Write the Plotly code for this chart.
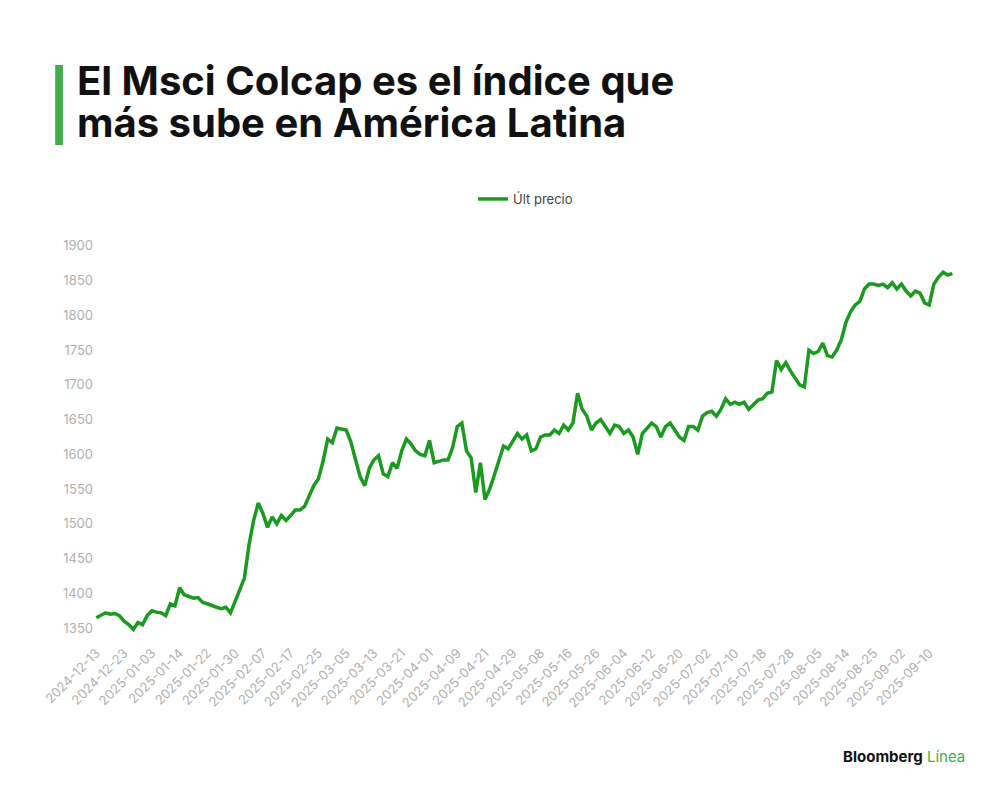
import plotly.graph_objects as go

tick_labels = ["2024-12-13","2024-12-23","2025-01-03","2025-01-14","2025-01-22","2025-01-30",
 "2025-02-07","2025-02-17","2025-02-25","2025-03-05","2025-03-13","2025-03-21","2025-04-01",
 "2025-04-09","2025-04-21","2025-04-29","2025-05-08","2025-05-16","2025-05-26","2025-06-04",
 "2025-06-12","2025-06-20","2025-07-02","2025-07-10","2025-07-18","2025-07-28","2025-08-05",
 "2025-08-14","2025-08-25","2025-09-02","2025-09-10"]

prices = [
 1365,1368,1372,1370,1371,1368, 1360,1355,1348,1358,1355,1368,
 1375,1373,1372,1368,1385,1382, 1408,1398,1395,1393,1394,1387,
 1385,1382,1380,1378,1380,1372, 1390,1405,1422,1470,1505,1530,
 1515,1495,1510,1500,1512,1505, 1512,1520,1520,1525,1540,1555,
 1565,1590,1622,1617,1638,1637, 1635,1618,1595,1568,1555,1580,
 1592,1598,1572,1568,1588,1580, 1605,1622,1615,1605,1600,1598,
 1620,1588,1590,1592,1592,1610, 1640,1645,1605,1595,1545,1588,
 1535,1550,1570,1590,1612,1608, 1620,1630,1622,1628,1605,1608,
 1625,1628,1628,1635,1630,1642, 1635,1645,1688,1665,1655,1635,
 1645,1650,1640,1630,1642,1640, 1630,1635,1625,1600,1630,1638,
 1645,1640,1625,1640,1645,1635, 1625,1620,1640,1640,1635,1655,
 1660,1662,1655,1665,1680,1672, 1675,1672,1675,1665,1672,1678,
 1680,1688,1690,1735,1722,1732, 1720,1710,1700,1697,1750,1745,
 1748,1760,1742,1740,1750,1765, 1790,1805,1815,1820,1838,1845,
 1845,1843,1845,1840,1847,1838, 1845,1835,1828,1835,1832,1818,
 1815,1845,1855,1862,1858,1860]

title_lines = ["El Msci Colcap es el índice que", "más sube en América Latina"]

x = list(range(len(prices)))
tickvals = [i*6 for i in range(len(tick_labels))]

T, B = 233, 156
H = 790 - T - B
def py(pix):  # pixel y from top -> paper coordinate
    return (790 - pix - B) / H

fig = go.Figure(go.Scatter(x=x, y=prices, mode="lines", name="Últ precio",
                           line=dict(color="#1a9a1f", width=3.5)))

fig.update_layout(
    width=1000, height=790, paper_bgcolor="white", plot_bgcolor="white",
    margin=dict(l=86, r=51, t=T, b=B),
    font=dict(family="Inter, Roboto, sans-serif", color="#9a9a9a", size=13),
    showlegend=True,
    legend=dict(orientation="h", x=0.5, xanchor="center", y=py(191), yanchor="middle",
                font=dict(size=13, color="#444")),
    xaxis=dict(range=[-0.5, len(prices)], tickvals=tickvals, ticktext=tick_labels,
               tickangle=-45, showgrid=False, zeroline=False, showline=False,
               tickfont=dict(size=13, color="#b0b0b0")),
    yaxis=dict(range=[1330, 1907], tickvals=list(range(1350, 1901, 50)),
               showgrid=False, zeroline=False, showline=False,
               tickfont=dict(size=13, color="#b0b0b0")),
)
fig.add_shape(type="rect", xref="paper", yref="paper", x0=-0.045, x1=-0.036,
              y0=py(137), y1=py(57), fillcolor="#3fae49", line_width=0)
for i, t in enumerate(title_lines):
    fig.add_annotation(xref="paper", yref="paper", x=-0.022, y=py(72 + 43*i),
                       xanchor="left", yanchor="middle", align="left", showarrow=False,
                       text="<b>%s</b>" % t,
                       font=dict(family="Inter, sans-serif", size=40, color="#111"))
fig.add_annotation(xref="paper", yref="paper", x=1.012, y=py(748),
                   xanchor="right", yanchor="middle", showarrow=False,
                   text="<b>Bloomberg</b> <span style='color:#3fae49'>Línea</span>",
                   font=dict(family="Inter, sans-serif", size=15, color="#111"))
fig.write_html("out.html")
